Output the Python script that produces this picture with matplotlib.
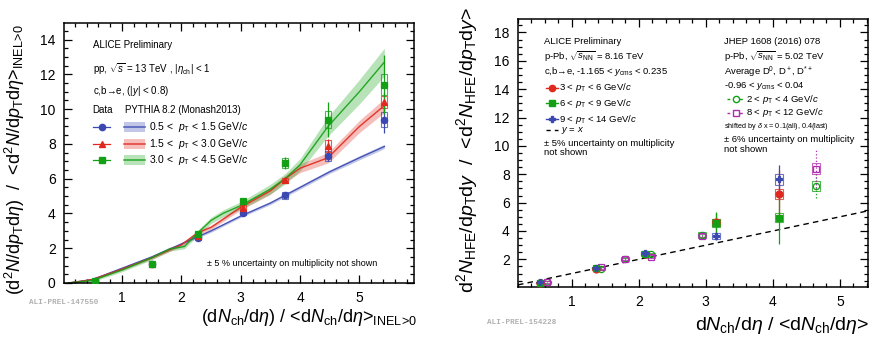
import matplotlib
matplotlib.use('Agg')
import matplotlib.pyplot as plt
from matplotlib.patches import Rectangle
from matplotlib.lines import Line2D
from matplotlib.ticker import MultipleLocator

plt.rcParams['font.family'] = ['Liberation Sans', 'DejaVu Sans']
plt.rcParams['mathtext.fontset'] = 'custom'
plt.rcParams['mathtext.rm'] = 'Liberation Sans'
plt.rcParams['mathtext.it'] = 'Liberation Sans:italic'
plt.rcParams['mathtext.bf'] = 'Liberation Sans:bold'

W, H = 871, 340

# ---------------- pp, 13 TeV (left panel) ----------------
pp_x = [0.55, 1.5, 2.28, 3.03, 3.75, 4.47, 5.42]
pp_low_y = [0.1, 1.1, 2.6, 4.05, 5.05, 7.3, 9.4]
pp_low_stat = [0.05, 0.1, 0.1, 0.1, 0.15, 0.3, 0.8]
pp_low_sys = [0.05, 0.08, 0.15, 0.12, 0.2, 0.3, 0.45]
pp_mid_y = [0.1, 1.1, 2.7, 4.3, 5.9, 7.9, 10.4]
pp_mid_stat = [0.05, 0.1, 0.1, 0.15, 0.15, 0.4, 0.6]
pp_mid_sys = [0.05, 0.08, 0.15, 0.2, 0.15, 0.35, 0.35]
pp_high_y = [0.1, 1.1, 2.8, 4.7, 6.9, 9.4, 11.4]
pp_high_stat = [0.05, 0.1, 0.15, 0.15, 0.35, 1.0, 1.7]
pp_high_sys = [0.05, 0.08, 0.15, 0.15, 0.3, 0.5, 0.6]

# PYTHIA 8.2 (Monash2013)
py_low_x = [0.1, 0.5, 1.0, 1.5, 2.0, 2.5, 3.0, 3.5, 4.0, 4.5, 5.0, 5.42]
py_low_y = [0.0, 0.2, 0.85, 1.5, 2.25, 3.0, 3.85, 4.6, 5.5, 6.4, 7.2, 7.85]
py_low_err = [0.05, 0.05, 0.06, 0.06, 0.07, 0.08, 0.08, 0.09, 0.1, 0.1, 0.12, 0.12]
py_mid_x = [0.1, 0.5, 1.0, 1.5, 2.0, 2.28, 2.5, 3.0, 3.5, 3.75, 4.0, 4.47, 5.0, 5.42]
py_mid_y = [0.0, 0.2, 0.8, 1.45, 2.2, 2.9, 3.2, 4.35, 5.3, 6.0, 6.6, 7.2, 9.0, 10.2]
py_mid_err = [0.05, 0.05, 0.06, 0.08, 0.1, 0.12, 0.12, 0.15, 0.2, 0.2, 0.25, 0.3, 0.35, 0.4]
py_high_x = [0.1, 0.5, 1.0, 1.5, 1.8, 2.05, 2.28, 2.5, 2.7, 3.0, 3.5, 3.75, 4.0, 4.47, 5.0, 5.42]
py_high_y = [0.0, 0.15, 0.75, 1.45, 1.95, 2.1, 2.9, 3.6, 4.0, 4.45, 5.4, 6.0, 6.8, 9.0, 11.0, 12.7]
py_high_err = [0.06, 0.08, 0.1, 0.12, 0.12, 0.13, 0.15, 0.18, 0.2, 0.22, 0.28, 0.3, 0.35, 0.55, 0.7, 0.8]

# ---------------- p-Pb, 8.16 TeV (right panel) ----------------
pb_x = [0.53, 1.37, 2.09, 3.15, 4.09]
pb_r_y = [0.35, 1.35, 2.35, 4.6, 6.6]
pb_r_stat = [0.03, 0.05, 0.1, 0.7, 1.7]
pb_r_sys = [0.05, 0.08, 0.12, 0.25, 0.35]
pb_g_y = [0.35, 1.37, 2.4, 4.55, 4.95]
pb_g_stat = [0.03, 0.05, 0.1, 0.8, 1.85]
pb_g_sys = [0.05, 0.08, 0.12, 0.3, 0.3]
pb_b_y = [0.38, 1.37, 2.45, 3.65, 7.65]
pb_b_stat = [0.03, 0.05, 0.1, 0.3, 1.0]
pb_b_sys = [0.05, 0.08, 0.12, 0.2, 0.4]

# JHEP 1608 (2016) 078, D mesons 5.02 TeV
d_x = [0.63, 1.44, 1.80, 2.19, 2.94, 4.65]
d_low_y = [0.38, 1.35, 2.0, 2.35, 3.75, 7.15]
d_low_stat = [0.03, 0.05, 0.05, 0.07, 0.1, 0.85]
d_low_sys = [0.1, 0.1, 0.1, 0.1, 0.15, 0.35]
d_high_y = [0.4, 1.45, 2.05, 2.2, 3.65, 8.4]
d_high_stat = [0.03, 0.05, 0.05, 0.07, 0.1, 1.4]
d_high_sys = [0.1, 0.1, 0.12, 0.12, 0.15, 0.4]

yx_line = [0.2, 5.42]

C_BLUE = '#3a48b0'
C_RED = '#e0281e'
C_GREEN = '#14a014'
C_MAG = '#b02cb0'


def F(x, y):
    # pixel position -> figure fraction
    return x / W, 1 - y / H


def style_axes(ax, xmin, xmax, ymin, ymax):
    ax.set_xlim(xmin, xmax)
    ax.set_ylim(ymin, ymax)
    ax.xaxis.set_major_locator(MultipleLocator(1))
    ax.xaxis.set_minor_locator(MultipleLocator(0.2))
    ax.yaxis.set_major_locator(MultipleLocator(2))
    ax.yaxis.set_minor_locator(MultipleLocator(0.5))
    ax.tick_params(which='both', direction='in', top=True, right=True, width=0.9, labelsize=10)
    ax.tick_params(which='major', length=6)
    ax.tick_params(which='minor', length=3)
    ax.tick_params(axis='x', pad=6)
    ax.tick_params(axis='y', pad=6)
    for s in ax.spines.values():
        s.set_linewidth(1.1)


def draw_points(ax, x, y, stat, sys, color, marker, hw, mfc=None, ls='-', ms=4.5):
    for xi, yi, si in zip(x, y, sys):
        ax.add_patch(Rectangle((xi - hw, yi - si), 2 * hw, 2 * si, fill=False,
                               ec=color, lw=0.8, alpha=0.75, zorder=3))
    eb = ax.errorbar(x, y, yerr=stat, fmt=marker, color=color, ms=ms, mfc=mfc or color,
                     mew=0.9, elinewidth=0.9, capsize=0, zorder=4)
    if ls != '-':
        eb[2][0].set_linestyle(ls)


fig = plt.figure(figsize=(W / 100, H / 100), dpi=100)

# ================= left panel =================
ax1 = fig.add_axes([64 / W, 1 - 283 / H, 350 / W, 260 / H])
style_axes(ax1, 0.02, 5.92, 0, 14.95)
ax1.set_yticks(range(0, 15, 2))

for px, py, pe, c in [(py_low_x, py_low_y, py_low_err, C_BLUE),
                      (py_mid_x, py_mid_y, py_mid_err, C_RED),
                      (py_high_x, py_high_y, py_high_err, C_GREEN)]:
    lo = [a - b for a, b in zip(py, pe)]
    hi = [a + b for a, b in zip(py, pe)]
    ax1.fill_between(px, lo, hi, color=c, alpha=0.3, lw=0, zorder=1)
    ax1.plot(px, py, color=c, lw=1.0, alpha=0.9, zorder=2)

draw_points(ax1, pp_x, pp_low_y, pp_low_stat, pp_low_sys, C_BLUE, 'o', 0.05)
draw_points(ax1, pp_x, pp_mid_y, pp_mid_stat, pp_mid_sys, C_RED, '^', 0.05)
draw_points(ax1, pp_x, pp_high_y, pp_high_stat, pp_high_sys, C_GREEN, 's', 0.05)

t = dict(fontsize=7, va='center', ha='left')
fig.text(*F(93, 45), 'ALICE Preliminary', **t)
fig.text(*F(93, 69), r'pp, $\sqrt{s}$ = 13 TeV , |$\eta_\mathrm{ch}$| < 1', **t)
fig.text(*F(93, 91), r'c,b→e, (|$y$| < 0.8)', **t)
fig.text(*F(92, 110), 'Data', **t)
fig.text(*F(125, 110), 'PYTHIA 8.2 (Monash2013)', **t)
leg_rows = [(127, C_BLUE, 'o', r'0.5 <  $p_\mathrm{T}$ < 1.5 GeV/$c$'),
            (144, C_RED, '^', r'1.5 <  $p_\mathrm{T}$ < 3.0 GeV/$c$'),
            (160, C_GREEN, 's', r'3.0 <  $p_\mathrm{T}$ < 4.5 GeV/$c$')]
for yy, c, m, lab in leg_rows:
    x0, y0 = F(93, yy)
    x1, _ = F(110, yy)
    fig.add_artist(Line2D([x0, x1], [y0, y0], color=c, lw=0.9, transform=fig.transFigure))
    fig.add_artist(Line2D([(x0 + x1) / 2], [y0], color=c, marker=m, ms=4.5,
                          transform=fig.transFigure))
    bx, by = F(124, yy + 5)
    fig.add_artist(Rectangle((bx, by), 21 / W, 10 / H, color=c, alpha=0.3, lw=0,
                             transform=fig.transFigure))
    b0, _ = F(124, yy)
    b1, _ = F(145, yy)
    fig.add_artist(Line2D([b0, b1], [y0, y0], color=c, lw=1.2, alpha=0.8,
                          transform=fig.transFigure))
    fig.text(*F(149, yy), lab, fontsize=7.5, va='center', ha='left')

fig.text(*F(207, 263), '± 5 % uncertainty on multiplicity not shown', fontsize=6.5,
         va='center', ha='left')

fig.text(*F(15, 160),
         r'(d$^2$$N$/d$p_\mathrm{T}$d$\eta$)  /  <d$^2$$N$/d$p_\mathrm{T}$d$\eta$>'
         r'$_\mathrm{INEL\!>\!0}$',
         fontsize=13, rotation=90, ha='center', va='center')
fig.text(*F(417, 318),
         r'(d$N_\mathrm{ch}$/d$\eta$) / <d$N_\mathrm{ch}$/d$\eta$>$_\mathrm{INEL\!>\!0}$',
         fontsize=13, ha='right', va='center')
fig.text(*F(29, 303), 'ALI-PREL-147550', fontsize=5.5, color='#b0b0b0',
         family='Liberation Mono', weight='bold', ha='left', va='center')

# ================= right panel =================
ax2 = fig.add_axes([518 / W, 1 - 287 / H, 350 / W, 268 / H])
style_axes(ax2, 0.2, 5.42, 0.05, 18.95)
ax2.set_yticks(range(2, 19, 2))

ax2.plot(yx_line, yx_line, color='black', ls=(0, (4, 3)), lw=1.0, zorder=2)

draw_points(ax2, d_x, d_low_y, d_low_stat, d_low_sys, C_GREEN, 'o', 0.06, mfc='none', ls=':')
draw_points(ax2, d_x, d_high_y, d_high_stat, d_high_sys, C_MAG, 's', 0.06, mfc='none', ls=':')
draw_points(ax2, pb_x, pb_r_y, pb_r_stat, pb_r_sys, C_RED, 'o', 0.06, ms=5)
draw_points(ax2, pb_x, pb_g_y, pb_g_stat, pb_g_sys, C_GREEN, 's', 0.06, ms=5)
draw_points(ax2, pb_x, pb_b_y, pb_b_stat, pb_b_sys, C_BLUE, 'P', 0.06, ms=5)

t2 = dict(fontsize=6.8, va='center', ha='left')
fig.text(*F(544, 42), 'ALICE Preliminary', **t2)
fig.text(*F(544, 57), r'p-Pb, $\sqrt{s_\mathrm{NN}}$ = 8.16 TeV', **t2)
fig.text(*F(544, 72), r'c,b→e, -1.165 < $y_\mathrm{cms}$ < 0.235', **t2)
for yy, c, m, lab in [(88, C_RED, 'o', r'3 < $p_\mathrm{T}$ < 6 GeV/$c$'),
                      (103, C_GREEN, 's', r'6 < $p_\mathrm{T}$ < 9 GeV/$c$'),
                      (119, C_BLUE, 'P', r'9 < $p_\mathrm{T}$ < 14 GeV/$c$')]:
    x0, y0 = F(546, yy)
    x1, _ = F(558, yy)
    fig.add_artist(Line2D([x0, x1], [y0, y0], color=c, lw=1.0, transform=fig.transFigure))
    fig.add_artist(Line2D([(x0 + x1) / 2], [y0], color=c, marker=m, ms=4.5,
                          transform=fig.transFigure))
    fig.text(*F(559, yy), lab, **t2)
x0, y0 = F(546, 130)
x1, _ = F(558, 130)
fig.add_artist(Line2D([x0, x1], [y0, y0], color='black', lw=1.0, ls=(0, (3, 3)),
                      transform=fig.transFigure))
fig.text(*F(561, 130), r'$y$ = $x$', **t2)
fig.text(*F(544, 143), '± 5% uncertainty on multiplicity', **t2)
fig.text(*F(544, 153), 'not shown', **t2)

fig.text(*F(724, 42), 'JHEP 1608 (2016) 078', **t2)
fig.text(*F(724, 57), r'p-Pb, $\sqrt{s_\mathrm{NN}}$ = 5.02 TeV', **t2)
fig.text(*F(724, 72), r'Average D$^0$, D$^+$, D$^{*+}$', **t2)
fig.text(*F(724, 86), r'-0.96 < $y_\mathrm{cms}$ < 0.04', **t2)
for yy, c, m, lab in [(99, C_GREEN, 'o', r'2 < $p_\mathrm{T}$ < 4 GeV/$c$'),
                      (113, C_MAG, 's', r'8 < $p_\mathrm{T}$ < 12 GeV/$c$')]:
    x0, y0 = F(727, yy)
    x1, _ = F(744, yy)
    fig.add_artist(Line2D([x0, x1], [y0, y0], color=c, lw=1.0, ls=(0, (2, 2.5)),
                          transform=fig.transFigure))
    fig.add_artist(Line2D([(x0 + x1) / 2], [y0], color=c, marker=m, ms=4.5, mfc='white',
                          transform=fig.transFigure))
    fig.text(*F(746, yy), lab, **t2)
fig.text(*F(724, 126), r'shifted by $\delta$ x = 0.1(all), 0.4(last)', fontsize=5.2,
         va='center', ha='left')
fig.text(*F(724, 140), '± 6% uncertainty on multiplicity', **t2)
fig.text(*F(724, 150), 'not shown', **t2)

fig.text(*F(467, 150),
         r'd$^2$$N_\mathrm{HFE}$/d$p_\mathrm{T}$d$y$  /  <d$^2$$N_\mathrm{HFE}$/d$p_\mathrm{T}$d$y$>',
         fontsize=14, rotation=90, ha='center', va='center')
fig.text(*F(869, 326),
         r'd$N_\mathrm{ch}$/d$\eta$ / <d$N_\mathrm{ch}$/d$\eta$>',
         fontsize=14, ha='right', va='center')
fig.text(*F(487, 323), 'ALI-PREL-154228', fontsize=5.5, color='#b0b0b0',
         family='Liberation Mono', weight='bold', ha='left', va='center')

fig.savefig('out.png', dpi=100)
